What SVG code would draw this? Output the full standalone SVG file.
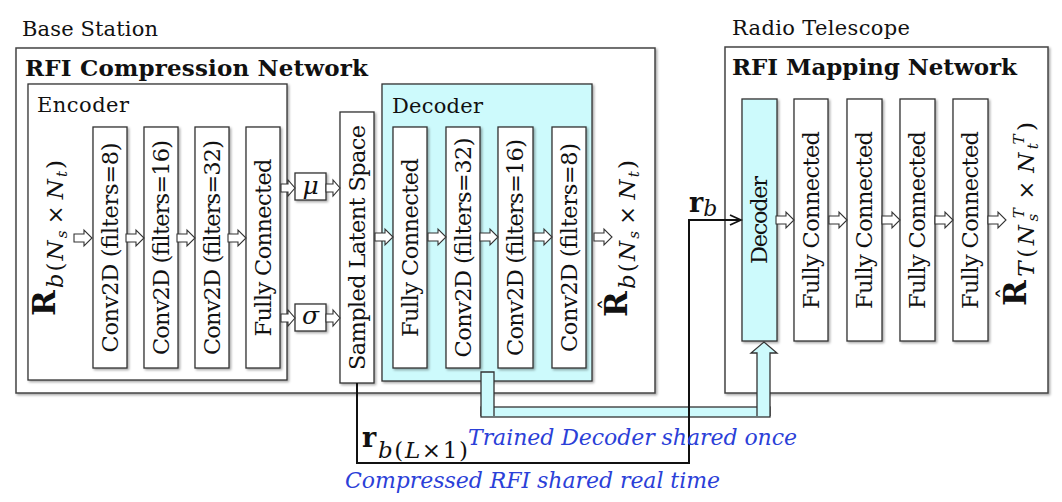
<svg xmlns="http://www.w3.org/2000/svg" xmlns:xlink="http://www.w3.org/1999/xlink" width="1062" height="502" viewBox="0 0 1062 502">
<defs>
<style>
.frame{fill:#fff;stroke:#444;stroke-width:1.5;filter:url(#sh)}
.box{fill:#fff;stroke:#333;stroke-width:1.3;filter:url(#sh)}
.cy{fill:#cdfafc;stroke:#333;stroke-width:1.3}
.cyb{fill:#cdfafc;stroke:#333;stroke-width:1.3;filter:url(#sh)}
.ttl{font-family:'DejaVu Serif',serif;font-size:21px;fill:#111}
.bold{font-family:'DejaVu Serif',serif;font-size:23px;font-weight:bold;fill:#111}
.lbl{font-family:'DejaVu Serif',serif;font-size:22.5px;fill:#111;text-anchor:middle}
.ba{fill:#fff;stroke:#333;stroke-width:1.1}
.conn{fill:none;stroke:#111;stroke-width:2}
.blue{font-family:'DejaVu Serif',serif;font-style:italic;font-size:22px;fill:#2b40d8}
.m{font-family:'DejaVu Serif',serif;fill:#111}
.bR{font-weight:bold;font-size:31px;font-style:normal}
.mi{font-style:italic;font-size:23px}
.mr{font-style:normal;font-size:23px}
.ms{font-style:italic;font-size:15px}
</style>
<filter id="sh" x="-20%" y="-10%" width="140%" height="130%">
<feDropShadow dx="1.5" dy="1.5" stdDeviation="0.8" flood-color="#000" flood-opacity="0.35"/>
</filter>
<path id="bl" d="M0,-4 H10 V-8 L18,0 L10,8 V4 H0 Z"/>
<path id="bs" d="M0,-4 H7 V-8 L14,0 L7,8 V4 H0 Z"/>
<marker id="ah" markerUnits="userSpaceOnUse" markerWidth="14" markerHeight="14" refX="12" refY="6" orient="auto">
<path d="M1,1 L12,6 L1,11" fill="none" stroke="#111" stroke-width="1.8"/>
</marker>
</defs>

<g id="base-station">
<text class="ttl" x="22" y="36" textLength="136">Base Station</text>
<rect class="frame" x="16" y="48" width="639" height="345"/>
<text class="bold" x="25" y="76" textLength="343">RFI Compression Network</text>
</g>

<g id="encoder">
<rect class="box" x="28" y="84" width="259" height="296"/>
<text class="ttl" x="37" y="112" font-size="22" textLength="92">Encoder</text>
</g>

<g id="input-label">
<text class="m" transform="translate(55,316) rotate(-90)" textLength="156"><tspan class="bR">R</tspan><tspan class="mi" dy="8">b</tspan><tspan class="mr">(</tspan><tspan class="mi">N</tspan><tspan class="ms" dy="4">s</tspan><tspan class="mr" dy="-4" dx="4">×</tspan><tspan class="mi" dx="4">N</tspan><tspan class="ms" dy="4">t</tspan><tspan class="mr" dy="-4">)</tspan></text>
</g>

<g id="enc-conv8">
<rect class="box" x="93" y="127" width="34" height="241"/>
<text class="lbl" transform="translate(110,247.5) rotate(-90)" y="7.5" textLength="210">Conv2D (filters=8)</text>
</g>
<g id="enc-conv16">
<rect class="box" x="144" y="127" width="34" height="241"/>
<text class="lbl" transform="translate(161,247.5) rotate(-90)" y="7.5" textLength="215">Conv2D (filters=16)</text>
</g>
<g id="enc-conv32">
<rect class="box" x="195" y="127" width="34" height="241"/>
<text class="lbl" transform="translate(212,247.5) rotate(-90)" y="7.5" textLength="215">Conv2D (filters=32)</text>
</g>
<g id="enc-fc">
<rect class="box" x="246" y="127" width="34" height="241"/>
<text class="lbl" transform="translate(263,247.5) rotate(-90)" y="7.5" textLength="178">Fully Connected</text>
</g>

<g id="mu">
<rect class="box" x="295" y="173" width="31" height="27"/>
<text class="m" x="310.5" y="194" font-size="25" font-style="italic" text-anchor="middle">μ</text>
</g>
<g id="sigma">
<rect class="box" x="295" y="304" width="31" height="27"/>
<text class="m" x="310.5" y="324" font-size="25" font-style="italic" text-anchor="middle">σ</text>
</g>

<g id="latent">
<rect class="box" x="340" y="112" width="34" height="271"/>
<text class="lbl" transform="translate(357,247.5) rotate(-90)" y="7.5" textLength="245">Sampled Latent Space</text>
</g>

<g id="decoder">
<rect class="cyb" x="382" y="84" width="210" height="297"/>
<text class="ttl" x="392" y="113" font-size="22" textLength="91">Decoder</text>
</g>
<g id="dec-fc">
<rect class="box" x="393" y="127" width="34" height="241"/>
<text class="lbl" transform="translate(410,247.5) rotate(-90)" y="7.5" textLength="179">Fully Connected</text>
</g>
<g id="dec-conv32">
<rect class="box" x="446" y="127" width="34" height="241"/>
<text class="lbl" transform="translate(463,247.5) rotate(-90)" y="7.5" textLength="220">Conv2D (filters=32)</text>
</g>
<g id="dec-conv16">
<rect class="box" x="498" y="127" width="35" height="241"/>
<text class="lbl" transform="translate(515.5,247.5) rotate(-90)" y="7.5" textLength="217">Conv2D (filters=16)</text>
</g>
<g id="dec-conv8">
<rect class="box" x="552" y="127" width="34" height="241"/>
<text class="lbl" transform="translate(569,247.5) rotate(-90)" y="7.5" textLength="209">Conv2D (filters=8)</text>
</g>

<g id="output-label">
<text class="m" transform="translate(627,317) rotate(-90)" textLength="157"><tspan class="bR">R</tspan><tspan class="mi" dy="8">b</tspan><tspan class="mr">(</tspan><tspan class="mi">N</tspan><tspan class="ms" dy="4">s</tspan><tspan class="mr" dy="-4" dx="4">×</tspan><tspan class="mi" dx="4">N</tspan><tspan class="ms" dy="4">t</tspan><tspan class="mr" dy="-4">)</tspan></text>
<text class="m" transform="translate(627,317) rotate(-90)" x="12.5" y="-10" font-size="24" text-anchor="middle">ˆ</text>
</g>

<g id="radio-telescope">
<text class="ttl" x="732" y="35" textLength="178">Radio Telescope</text>
<rect class="frame" x="725" y="47" width="323" height="346"/>
<text class="bold" x="732" y="75" textLength="285">RFI Mapping Network</text>
</g>

<g id="rt-decoder">
<rect class="cyb" x="742" y="99" width="35" height="242"/>
<text class="lbl" transform="translate(759.5,220) rotate(-90)" y="7.5" textLength="88">Decoder</text>
</g>
<g id="rt-fc1">
<rect class="box" x="794" y="99" width="34" height="242"/>
<text class="lbl" transform="translate(811,220) rotate(-90)" y="7.5" textLength="178">Fully Connected</text>
</g>
<g id="rt-fc2">
<rect class="box" x="847" y="99" width="35" height="242"/>
<text class="lbl" transform="translate(864.5,220) rotate(-90)" y="7.5" textLength="178">Fully Connected</text>
</g>
<g id="rt-fc3">
<rect class="box" x="900" y="99" width="35" height="242"/>
<text class="lbl" transform="translate(917.5,220) rotate(-90)" y="7.5" textLength="178">Fully Connected</text>
</g>
<g id="rt-fc4">
<rect class="box" x="953" y="99" width="35" height="242"/>
<text class="lbl" transform="translate(970.5,220) rotate(-90)" y="7.5" textLength="178">Fully Connected</text>
</g>

<g id="rt-output-label">
<text class="m" transform="translate(1026,306) rotate(-90)" textLength="184"><tspan class="bR">R</tspan><tspan class="mi" dy="8">T</tspan><tspan class="mr">(</tspan><tspan class="mi">N</tspan><tspan class="ms" dy="4">s</tspan><tspan class="ms" dx="-8" dy="-14">T</tspan><tspan class="mr" dy="10" dx="5">×</tspan><tspan class="mi" dx="4">N</tspan><tspan class="ms" dy="4">t</tspan><tspan class="ms" dx="-5" dy="-14">T</tspan><tspan class="mr" dy="10">)</tspan></text>
<text class="m" transform="translate(1026,306) rotate(-90)" x="12.5" y="-11" font-size="24" text-anchor="middle">ˆ</text>
</g>

<g id="connectors">
<use xlink:href="#bl" class="ba" x="74" y="238"/>
<use xlink:href="#bl" class="ba" x="126" y="238"/>
<use xlink:href="#bl" class="ba" x="177" y="238"/>
<use xlink:href="#bl" class="ba" x="228" y="238"/>
<use xlink:href="#bs" class="ba" x="281" y="188"/>
<use xlink:href="#bs" class="ba" x="281" y="318"/>
<use xlink:href="#bs" class="ba" x="326" y="188"/>
<use xlink:href="#bs" class="ba" x="326" y="318"/>
<use xlink:href="#bl" class="ba" x="375" y="237"/>
<use xlink:href="#bl" class="ba" x="428" y="237"/>
<use xlink:href="#bl" class="ba" x="480" y="237"/>
<use xlink:href="#bl" class="ba" x="534" y="237"/>
<use xlink:href="#bl" class="ba" x="594" y="237"/>
<use xlink:href="#bl" class="ba" x="776" y="220"/>
<use xlink:href="#bl" class="ba" x="829" y="220"/>
<use xlink:href="#bl" class="ba" x="882" y="220"/>
<use xlink:href="#bl" class="ba" x="935" y="220"/>
<use xlink:href="#bl" class="ba" x="988" y="220"/>

<rect class="cy" x="481" y="407" width="289" height="10"/>
<path class="cy" d="M481,416 V372 H494 V416"/>
<path class="cy" d="M757,416 V353 H751 L764,342 L777,353 H770 V416"/>

<path class="conn" d="M357,383 V463 H689 V220 H741" marker-end="url(#ah)"/>

<text class="m" x="689" y="212"><tspan font-weight="bold" font-size="27">r</tspan><tspan font-style="italic" font-size="22" dy="4">b</tspan></text>
<text class="m" x="362" y="447" font-weight="bold" font-size="27">r</text>
<text class="m" x="378" y="458" textLength="90"><tspan class="mi" font-size="22">b</tspan><tspan class="mr" font-size="22">(</tspan><tspan class="mi" font-size="22">L</tspan><tspan class="mr" font-size="22">×1)</tspan></text>

<text class="blue" x="468" y="445" textLength="329">Trained Decoder shared once</text>
<text class="blue" x="345" y="488" textLength="375">Compressed RFI shared real time</text>
</g>
</svg>
